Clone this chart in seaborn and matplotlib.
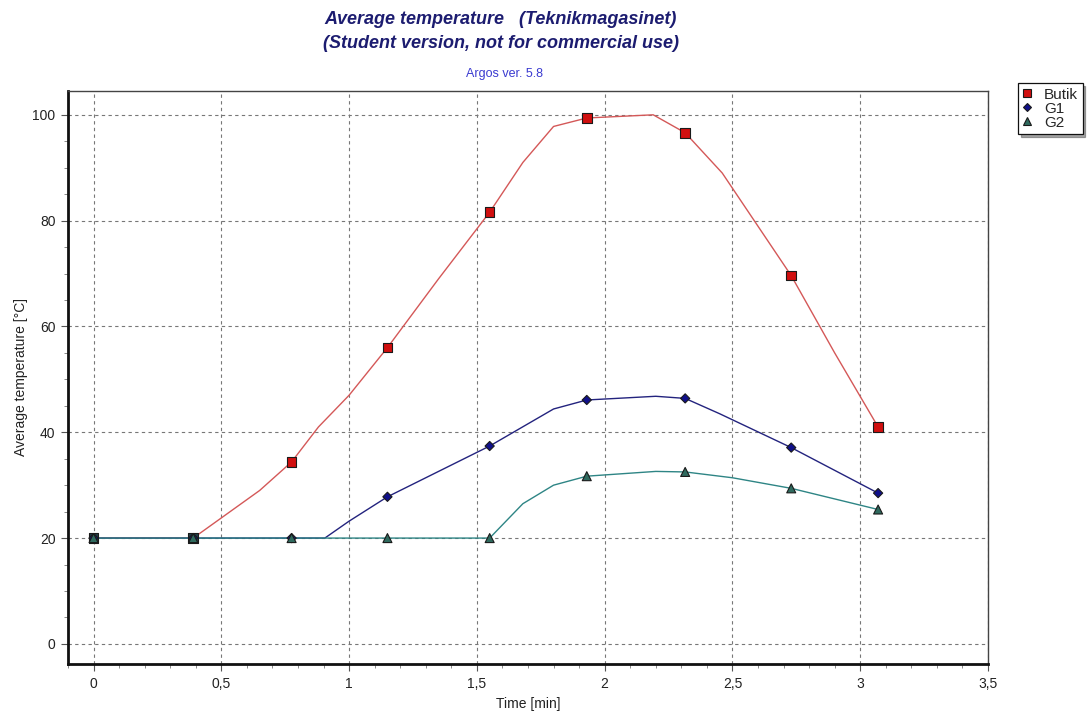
import matplotlib
matplotlib.use("Agg")
import matplotlib.pyplot as plt
from matplotlib.ticker import MultipleLocator, FuncFormatter
import seaborn as sns
import pandas as pd

# Measured sample points (markers)
t_samples = [0.0, 0.39, 0.775, 1.15, 1.55, 1.93, 2.315, 2.73, 3.07]
butik_samples = [20.0, 20.0, 34.4, 56.0, 81.6, 99.4, 96.6, 69.6, 41.0]
g1_samples = [20.0, 20.0, 20.0, 27.8, 37.4, 46.1, 46.4, 37.1, 28.5]
g2_samples = [20.0, 20.0, 20.0, 20.0, 20.0, 31.7, 32.5, 29.4, 25.4]

# Computed curves between the samples
butik_curve_t = [0.0, 0.39, 0.65, 0.775, 0.88, 1.0, 1.15, 1.35, 1.55, 1.68, 1.80, 1.93, 2.19, 2.315, 2.46, 2.73, 2.9, 3.07]
butik_curve_v = [20.0, 20.0, 29.0, 34.4, 41.0, 47.0, 56.0, 69.0, 81.6, 91.0, 97.8, 99.4, 100.0, 96.6, 89.0, 69.6, 55.0, 41.0]
g1_curve_t = [0.0, 0.905, 1.0, 1.15, 1.55, 1.80, 1.93, 2.2, 2.315, 2.45, 2.73, 3.07]
g1_curve_v = [20.0, 20.0, 23.2, 27.8, 37.4, 44.4, 46.1, 46.8, 46.4, 43.5, 37.1, 28.5]
g2_curve_t = [0.0, 1.55, 1.68, 1.80, 1.93, 2.2, 2.315, 2.5, 2.73, 3.07]
g2_curve_v = [20.0, 20.0, 26.5, 30.0, 31.7, 32.6, 32.5, 31.4, 29.4, 25.4]

series_names = ["Butik", "G1", "G2"]
x_ticks = [0, 0.5, 1, 1.5, 2, 2.5, 3, 3.5]
y_ticks = [0, 20, 40, 60, 80, 100]

line_colors = {"Butik": "#d45858", "G1": "#23237e", "G2": "#2e8585"}
marker_face = {"Butik": "#d10f0f", "G1": "#10108a", "G2": "#2f6a5e"}
marker_shape = {"Butik": "s", "G1": "D", "G2": "^"}
marker_size = {"Butik": 48, "G1": 22, "G2": 42}

sns.set_theme(style="white")
plt.rcParams["font.family"] = ["Liberation Sans", "DejaVu Sans"]

fig = plt.figure(figsize=(10.88, 7.13), dpi=100)
ax = fig.add_axes([68 / 1088, 1 - 664 / 713, (988 - 68) / 1088, (664 - 91) / 713])

curves = pd.concat([
    pd.DataFrame({"t": butik_curve_t, "v": butik_curve_v, "s": "Butik"}),
    pd.DataFrame({"t": g1_curve_t, "v": g1_curve_v, "s": "G1"}),
    pd.DataFrame({"t": g2_curve_t, "v": g2_curve_v, "s": "G2"}),
], ignore_index=True)

for name in series_names:
    sub = curves[curves["s"] == name]
    sns.lineplot(data=sub, x="t", y="v", ax=ax, color=line_colors[name],
                 linewidth=1.0, sort=False, estimator=None, legend=False, zorder=3)

samples = {"Butik": butik_samples, "G1": g1_samples, "G2": g2_samples}
for name in series_names:
    vals = samples[name]
    faces = []
    for i, v in enumerate(vals):
        # where all three series coincide the stacked markers read dark
        if name == "Butik" and v == g2_samples[i] and v == g1_samples[i]:
            faces.append("#1f3d48")
        else:
            faces.append(marker_face[name])
    df = pd.DataFrame({"t": t_samples, "v": vals})
    sns.scatterplot(data=df, x="t", y="v", ax=ax, marker=marker_shape[name],
                    s=marker_size[name], c=faces, edgecolor="#1a1a1a",
                    linewidth=0.8, zorder=5, legend=False)

ax.set_xlim(-0.10, 3.5)
ax.set_ylim(-3.8, 104.5)
ax.set_xticks(x_ticks)
ax.set_yticks(y_ticks)
ax.xaxis.set_minor_locator(MultipleLocator(0.1))
ax.yaxis.set_minor_locator(MultipleLocator(5))
ax.xaxis.set_major_formatter(FuncFormatter(lambda v, p: f"{v:g}".replace(".", ",")))
ax.tick_params(axis="both", which="major", direction="out", length=5, width=0.8,
               color="#555555", labelsize=10, labelcolor="#222222", pad=4,
               bottom=True, left=True)
ax.tick_params(axis="both", which="minor", direction="out", length=3, width=0.6,
               color="#777777", bottom=True, left=True)
ax.grid(True, which="major", linestyle=(0, (3, 3)), color="#777777", linewidth=0.8)
for side in ["left", "bottom"]:
    ax.spines[side].set_linewidth(2.0)
    ax.spines[side].set_color("#111111")
for side in ["top", "right"]:
    ax.spines[side].set_linewidth(1.0)
    ax.spines[side].set_color("#444444")

ax.set_xlabel("Time [min]", fontsize=10, color="#222222", labelpad=5)
ax.set_ylabel("Average temperature [°C]", fontsize=10, color="#222222", labelpad=3)

fig.text(501 / 1088, 1 - 19 / 713, "Average temperature   (Teknikmagasinet)",
         ha="center", va="center", fontsize=13, fontweight="bold", style="italic",
         color="#1c1c70")
fig.text(501 / 1088, 1 - 44 / 713, "(Student version, not for commercial use)",
         ha="center", va="center", fontsize=13, fontweight="bold", style="italic",
         color="#1c1c70")
fig.text(504 / 1088, 1 - 74 / 713, "Argos ver. 5.8", ha="center", va="center",
         fontsize=9, color="#3a3ad0")

handles = [
    plt.Line2D([], [], linestyle="none", marker=marker_shape[n],
               markerfacecolor=marker_face[n], markeredgecolor="#1a1a1a",
               markersize=6 if n != "G1" else 4.5, markeredgewidth=0.8)
    for n in series_names
]
leg = fig.legend(handles, series_names, loc="upper left",
                 bbox_to_anchor=(1018 / 1088, 1 - 83 / 713), frameon=True,
                 fontsize=11, handlelength=0.6, handletextpad=0.8,
                 borderpad=0.3, labelspacing=0.0, fancybox=False, shadow=True,
                 borderaxespad=0)
leg.get_frame().set_edgecolor("#111111")
leg.get_frame().set_linewidth(0.9)

fig.savefig("out.png", dpi=100)
